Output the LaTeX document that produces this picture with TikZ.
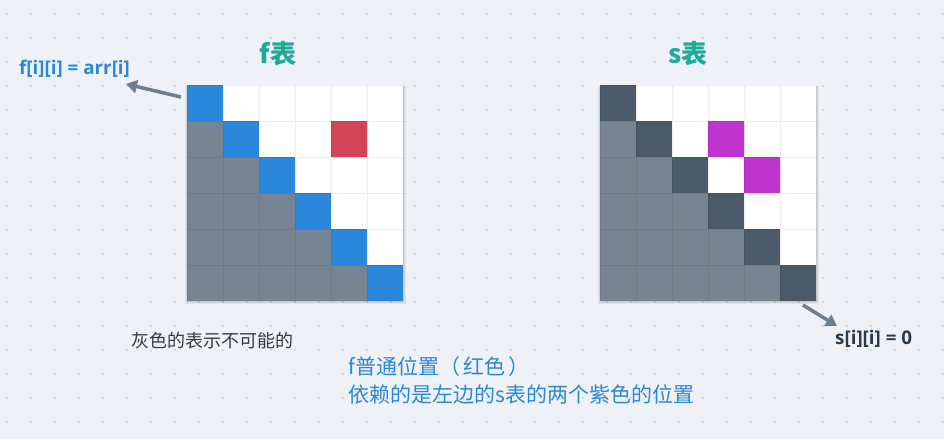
\documentclass[tikz,border=0pt]{standalone}
\usepackage{fontspec}
\setmainfont{Open Sans}
\newfontfamily\cjk{Noto Sans CJK SC}
\usetikzlibrary{arrows.meta,shadows}
\definecolor{bg}{HTML}{EEF2F6}
\definecolor{dotc}{HTML}{C9D0D8}
\definecolor{cblue}{HTML}{2B87D9}
\definecolor{cred}{HTML}{D34459}
\definecolor{cgray}{HTML}{778592}
\definecolor{cdark}{HTML}{4A5A69}
\definecolor{cpurple}{HTML}{BF33CF}
\definecolor{cteal}{HTML}{1DAA9A}
\definecolor{ctext}{HTML}{333A40}
\definecolor{carrow}{HTML}{6E7E8C}
\definecolor{cdarktext}{HTML}{2B3A48}
\tikzset{
  cellbox/.style={minimum size=36pt, inner sep=0pt, outer sep=0pt, draw=black, draw opacity=0.07, line width=0.6pt},
  gridshadow/.style={fill=black, fill opacity=0.06},
  title/.style={font=\cjk\bfseries\fontsize{26}{30}\selectfont, text=cteal, inner sep=0pt},
  lbl/.style={font=\bfseries\fontsize{18.8}{22}\selectfont, inner sep=0pt},
  note/.style={font=\cjk\fontsize{18}{22}\selectfont, inner sep=0pt, anchor=west},
  bignote/.style={note, text=cblue, font=\cjk\fontsize{21}{25}\selectfont},
  callout/.style={draw=carrow, line width=3.5pt, -{Triangle[length=11pt,width=13pt]}}
}
\begin{document}
\begin{tikzpicture}[x=1pt,y=-1pt]
\fill[bg] (0,0) rectangle (944,439);
\useasboundingbox (0,0) rectangle (944,439);
% dotted grid
\foreach \i in {0,...,39} {
  \foreach \j in {0,...,18} {
    \fill[dotc] ({7+24*\i},{14+24*\j}) circle (1.1pt);
  }
}
% soft shadows behind tables
\foreach \dx in {0,413} {
  \fill[gridshadow] ({186+\dx},86) rectangle ({405+\dx},303);
  \fill[gridshadow] ({185+\dx},86) rectangle ({406+\dx},304);
}
\foreach \r in {0,...,5} {
  \foreach \c in {0,...,5} {
    \pgfmathsetmacro{\cx}{187+36*\c+18}
    \pgfmathsetmacro{\cy}{85+36*\r+18}
    \ifnum\c<\r
      \node[cellbox, fill=cgray] (f\r\c) at (\cx,\cy) {};
      \node[cellbox, fill=cgray] (s\r\c) at ({\cx+413},\cy) {};
    \else\ifnum\c=\r
      \node[cellbox, fill=cblue] (f\r\c) at (\cx,\cy) {};
      \node[cellbox, fill=cdark] (s\r\c) at ({\cx+413},\cy) {};
    \else
      \node[cellbox, fill=white] (f\r\c) at (\cx,\cy) {};
      \node[cellbox, fill=white] (s\r\c) at ({\cx+413},\cy) {};
    \fi\fi
  }
}
% special cells
\node[cellbox, fill=cred] at (f14) {};
\node[cellbox, fill=cpurple] at (s13) {};
\node[cellbox, fill=cpurple] at (s24) {};
% titles
\node[title] (ft) at (278,54) {f表};
\node[title] (st) at (688,54) {s表};
% labels
\node[lbl, text=cblue, anchor=west] (fl) at (19,69) {f[i][i] = arr[i]};
\node[lbl, text=cdarktext, anchor=west] (sl) at (835,339) {s[i][i] = 0};
\coordinate (fa) at (181,97);
\coordinate (sa) at (803,305);
\draw[callout] (fa) -- (126,84);
\draw[callout] (sa) -- (837,326);
% notes
\node[note, text=ctext] (n1) at (131,341) {灰色的表示不可能的};
\node[bignote] (n2) at (348,367) {f普通位置（\hspace{3pt}红色\hspace{3pt}）};
\node[bignote] (n3) at (348,394) {依赖的是左边的s表的两个紫色的位置};
\end{tikzpicture}
\end{document}
